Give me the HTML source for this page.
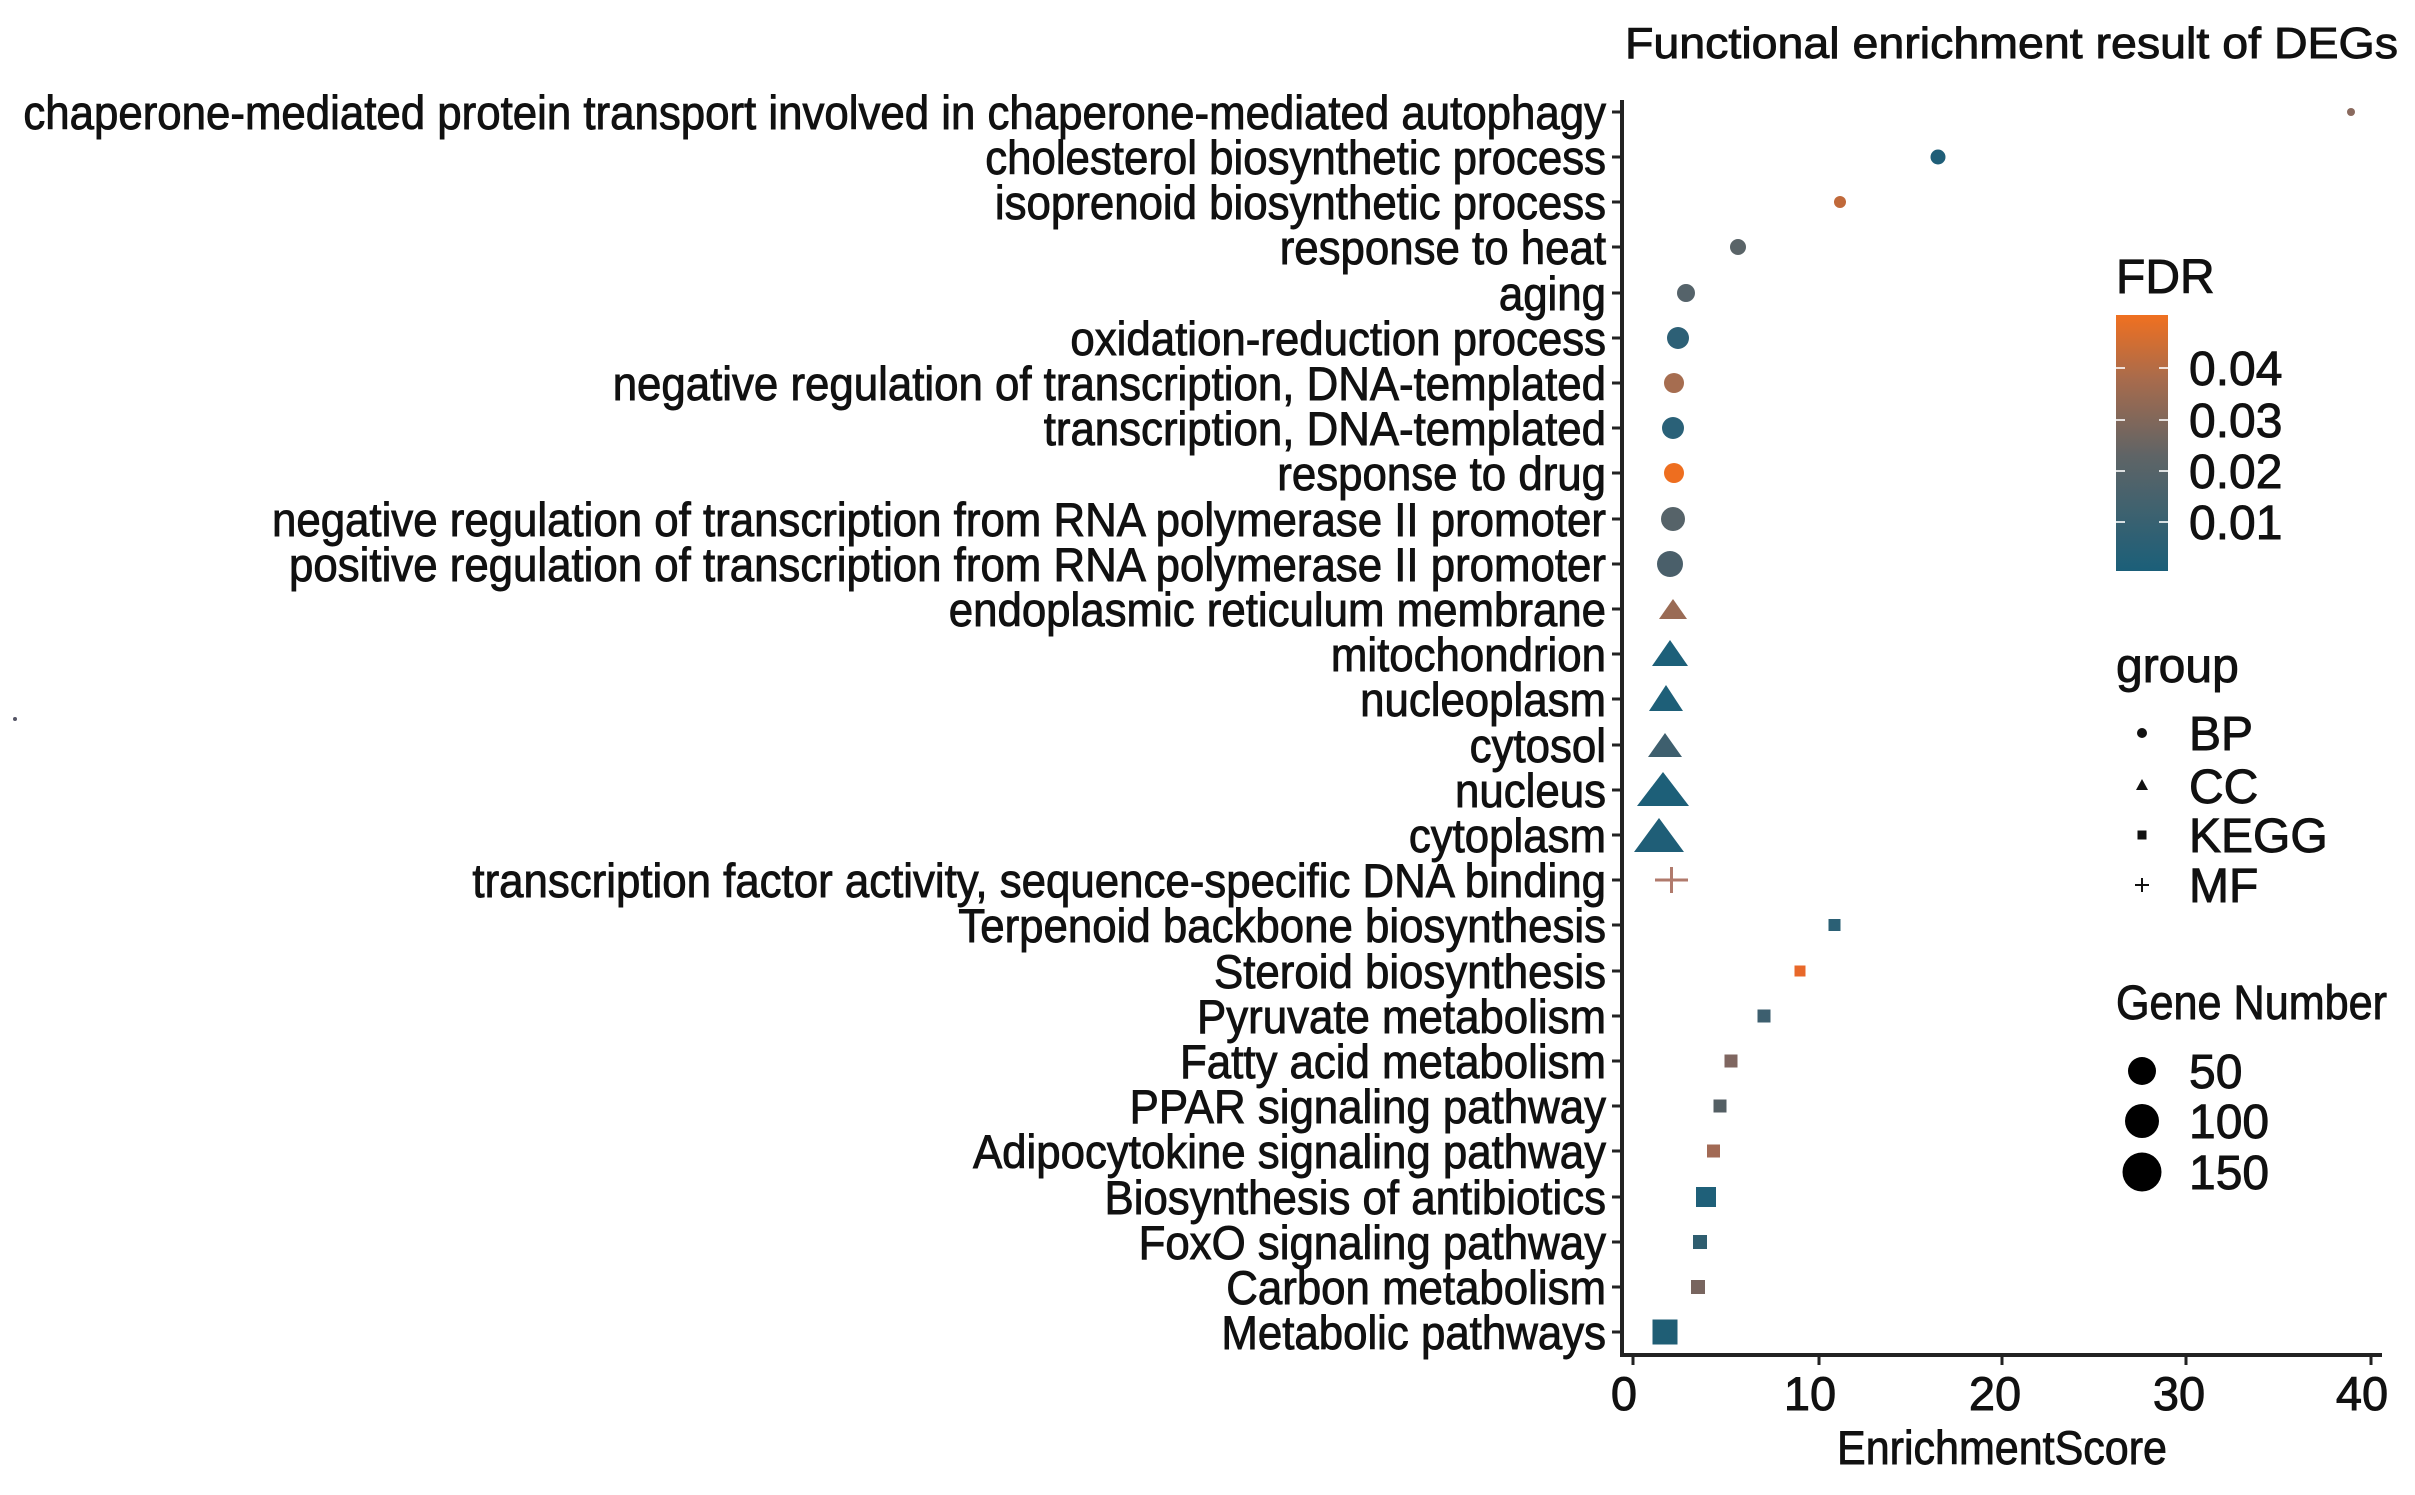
<!DOCTYPE html>
<html><head><meta charset="utf-8"><style>
html,body{margin:0;padding:0;background:#fff;}
svg{display:block;font-family:"Liberation Sans",Arial,sans-serif;}
svg text{stroke:#111;stroke-width:0.9px;}
</style></head><body>
<svg id="s" width="2415" height="1495" viewBox="0 0 2415 1495" xmlns="http://www.w3.org/2000/svg">
<defs>
<linearGradient id="g" x1="0" y1="1" x2="0" y2="0">
<stop offset="0" stop-color="#1b5f79"/>
<stop offset="0.45" stop-color="#5f6466"/>
<stop offset="0.75" stop-color="#a86b4c"/>
<stop offset="1" stop-color="#f07020"/>
</linearGradient>
</defs>
<rect width="2415" height="1495" fill="#fff"/>
<text x="2398" y="58" font-size="44" text-anchor="end" fill="#111" textLength="773" lengthAdjust="spacingAndGlyphs">Functional enrichment result of DEGs</text>
<circle cx="15" cy="719" r="2" fill="#556"/>
<g id="labels" font-size="47" fill="#111" text-anchor="end">
<text x="1606" y="129" id="longest">chaperone-mediated protein transport involved in chaperone-mediated autophagy</text>
<text x="1606" y="174">cholesterol biosynthetic process</text>
<text x="1606" y="219">isoprenoid biosynthetic process</text>
<text x="1606" y="264">response to heat</text>
<text x="1606" y="310">aging</text>
<text x="1606" y="355">oxidation-reduction process</text>
<text x="1606" y="400">negative regulation of transcription, DNA-templated</text>
<text x="1606" y="445">transcription, DNA-templated</text>
<text x="1606" y="490">response to drug</text>
<text x="1606" y="536">negative regulation of transcription from RNA polymerase II promoter</text>
<text x="1606" y="581">positive regulation of transcription from RNA polymerase II promoter</text>
<text x="1606" y="626">endoplasmic reticulum membrane</text>
<text x="1606" y="671">mitochondrion</text>
<text x="1606" y="716">nucleoplasm</text>
<text x="1606" y="762">cytosol</text>
<text x="1606" y="807">nucleus</text>
<text x="1606" y="852">cytoplasm</text>
<text x="1606" y="897">transcription factor activity, sequence-specific DNA binding</text>
<text x="1606" y="942">Terpenoid backbone biosynthesis</text>
<text x="1606" y="988">Steroid biosynthesis</text>
<text x="1606" y="1033">Pyruvate metabolism</text>
<text x="1606" y="1078">Fatty acid metabolism</text>
<text x="1606" y="1123">PPAR signaling pathway</text>
<text x="1606" y="1168">Adipocytokine signaling pathway</text>
<text x="1606" y="1214">Biosynthesis of antibiotics</text>
<text x="1606" y="1259">FoxO signaling pathway</text>
<text x="1606" y="1304">Carbon metabolism</text>
<text x="1606" y="1349">Metabolic pathways</text>
</g>
<g stroke="#222" stroke-width="3">
<path d="M1612 112h10M1612 157h10M1612 202h10M1612 247h10M1612 293h10M1612 338h10M1612 383h10M1612 428h10M1612 473h10M1612 519h10M1612 564h10M1612 609h10M1612 654h10M1612 699h10M1612 745h10M1612 790h10M1612 835h10M1612 880h10M1612 925h10M1612 971h10M1612 1016h10M1612 1061h10M1612 1106h10M1612 1151h10M1612 1197h10M1612 1242h10M1612 1287h10M1612 1332h10"/>
<path d="M1633 1355v10M1819 1355v10M2002 1355v10M2186 1355v10M2371 1355v10"/>
</g>
<path d="M1622 100V1355H2382" fill="none" stroke="#222" stroke-width="4"/>
<g font-size="47" fill="#111" text-anchor="middle">
<text x="1624" y="1410">0</text>
<text x="1810" y="1410">10</text>
<text x="1995" y="1410">20</text>
<text x="2179" y="1410">30</text>
<text x="2362" y="1410">40</text>
</g>
<text x="1837" y="1464" font-size="47" fill="#111" textLength="330" lengthAdjust="spacingAndGlyphs">EnrichmentScore</text>
<circle cx="2351" cy="112" r="4" fill="#8a6a5e"/>
<circle cx="1938" cy="157" r="7.5" fill="#1f5e78"/>
<circle cx="1840" cy="202" r="6" fill="#c0693a"/>
<circle cx="1738" cy="247" r="8" fill="#5a6468"/>
<circle cx="1686" cy="293" r="9" fill="#55636a"/>
<circle cx="1678" cy="338" r="11" fill="#2d6076"/>
<circle cx="1674" cy="383" r="10" fill="#a66d50"/>
<circle cx="1673" cy="428" r="11" fill="#2a6178"/>
<circle cx="1674" cy="473" r="10" fill="#ee6e1f"/>
<circle cx="1673" cy="519" r="12" fill="#566369"/>
<circle cx="1670" cy="564" r="13" fill="#4a5f6a"/>
<polygon points="1673,599 1687,619 1659,619" fill="#9a6b55"/>
<polygon points="1670,640 1688,666 1652,666" fill="#1d6079"/>
<polygon points="1666,685 1683,711 1649,711" fill="#1e5f78"/>
<polygon points="1665,733 1682,757 1648,757" fill="#3e5f6e"/>
<polygon points="1663,772 1689,806 1637,806" fill="#1d5f78"/>
<polygon points="1659,818 1684,852 1634,852" fill="#1f5e77"/>
<path d="M1655 880h33M1671.5 867v26" stroke="#b07a6c" stroke-width="3"/>
<rect x="1828.5" y="919" width="12" height="12" fill="#2b6075"/>
<rect x="1794.5" y="965.5" width="11" height="11" fill="#e8682a"/>
<rect x="1757.5" y="1009.5" width="13" height="13" fill="#3d5f6f"/>
<rect x="1724.5" y="1054.5" width="13" height="13" fill="#7f6660"/>
<rect x="1713.5" y="1099.5" width="13" height="13" fill="#545f64"/>
<rect x="1707" y="1144.5" width="13" height="13" fill="#a26a55"/>
<rect x="1696" y="1187" width="20" height="20" fill="#1f6079"/>
<rect x="1693" y="1235" width="14" height="14" fill="#2f5e70"/>
<rect x="1691" y="1280" width="14" height="14" fill="#78655f"/>
<rect x="1652.5" y="1319.5" width="25" height="25" fill="#1f5e75"/>
<text x="2116" y="293" font-size="48" fill="#111">FDR</text>
<rect x="2116" y="315" width="52" height="256" fill="url(#g)"/>
<g stroke="#fff" stroke-width="2" opacity="0.8">
<path d="M2116 368h9M2159 368h9M2116 420h9M2159 420h9M2116 471h9M2159 471h9M2116 522h9M2159 522h9"/>
</g>
<g font-size="48" fill="#111">
<text x="2189" y="385">0.04</text>
<text x="2189" y="437">0.03</text>
<text x="2189" y="488">0.02</text>
<text x="2189" y="539">0.01</text>
<text x="2116" y="682">group</text>
<text x="2189" y="750">BP</text>
<text x="2189" y="803">CC</text>
<text x="2189" y="852">KEGG</text>
<text x="2189" y="902">MF</text>
<text x="2116" y="1019" textLength="271" lengthAdjust="spacingAndGlyphs">Gene Number</text>
<text x="2189" y="1088">50</text>
<text x="2189" y="1138">100</text>
<text x="2189" y="1189">150</text>
</g>
<circle cx="2142" cy="733" r="5" fill="#111"/>
<polygon points="2142,779 2148,790 2136,790" fill="#111"/>
<rect x="2137.5" y="830.5" width="9" height="9" fill="#111"/>
<path d="M2135 885h14M2142 878v14" stroke="#111" stroke-width="2"/>
<circle cx="2142" cy="1071" r="14" fill="#000"/>
<circle cx="2142" cy="1121" r="17" fill="#000"/>
<circle cx="2142" cy="1172" r="19.5" fill="#000"/>
</svg>
<script>
(function(){
var t=document.getElementById('longest');
var w=t.getComputedTextLength();
if(w>0){var s=1583/w;var g=document.getElementById('labels');
g.setAttribute('transform','translate(1606,0) scale('+s+',1) translate(-1606,0)');}
})();
</script>
</body></html>
